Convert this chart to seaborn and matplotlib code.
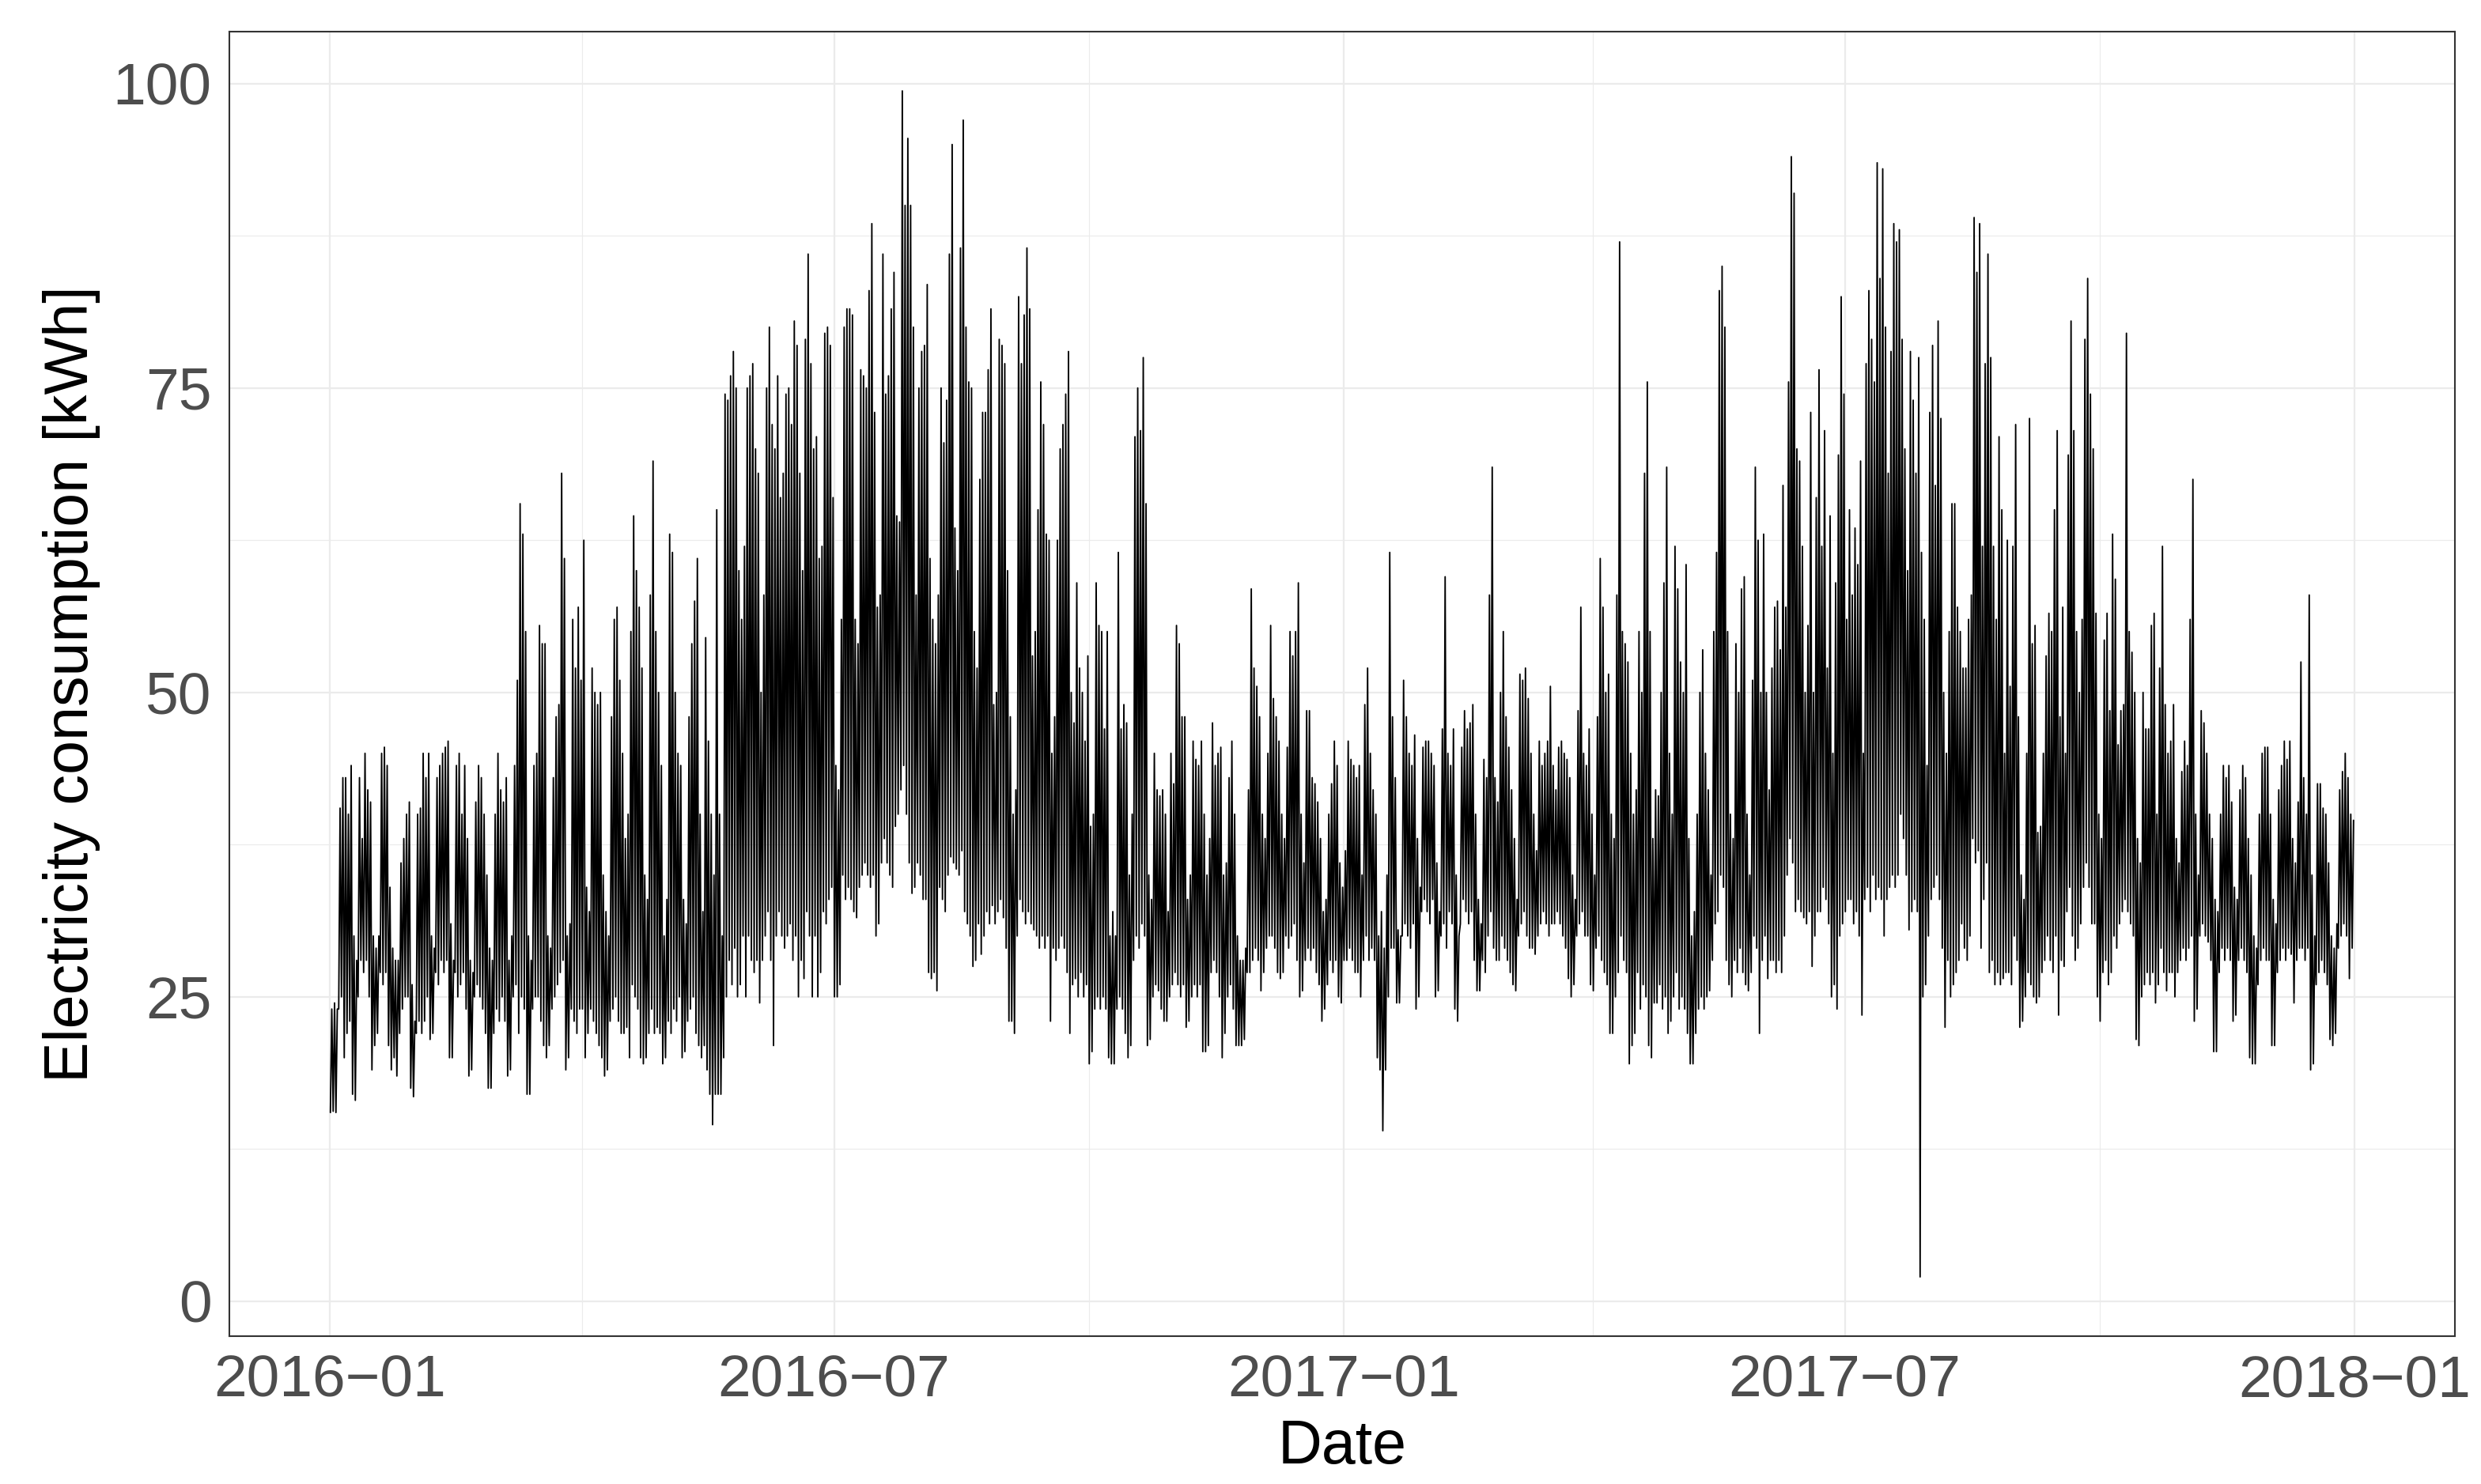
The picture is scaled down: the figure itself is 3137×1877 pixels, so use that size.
import numpy as np
import pandas as pd
import seaborn as sns
import matplotlib.pyplot as plt
import matplotlib.dates as mdates

# daily peak and trough of consumption [kWh] (one row per week)
start_day = '2016-01-01'
daily_high = [
    24, 24.5, 24, 40.5, 43, 43, 40,
    44, 30, 28, 43, 38, 45, 42,
    41, 30, 29, 30, 45, 45.5, 44,
    34, 29, 28, 28, 36, 38, 40,
    41, 26, 23, 40, 40.5, 45, 43,
    45, 30, 29, 43, 44, 45, 45.5,
    46, 31, 28, 44, 45, 40, 44,
    38, 28, 27, 41, 44, 43, 40,
    35, 29, 28, 40, 45, 42, 41,
    43, 28, 30, 44, 51, 65.5, 63,
    55, 30, 28, 44, 45, 55.5, 54,
    54, 30, 29, 43, 48, 49, 68,
    61, 30, 31, 56, 52, 57, 51,
    62.5, 34, 32, 52, 50, 49, 50,
    35, 32, 30, 48, 56, 57, 51,
    45, 38, 40, 55, 64.5, 60, 57,
    52, 35, 33, 58, 69, 55, 50,
    44, 30, 33, 63, 61.5, 50, 45,
    44, 33, 31, 48, 54, 57.5, 61,
    40, 32, 54.5, 46, 40, 35, 65,
    40, 30, 74.5, 74, 76, 78, 75,
    60, 56, 62, 75, 76, 77, 70,
    68, 50, 58, 75, 80, 72, 70,
    76, 66, 68, 74.5, 75, 72, 80.5,
    78.5, 68, 60, 79, 86, 77, 70,
    71, 61, 62, 79.5, 80, 78.5, 66,
    44, 42, 56, 80, 81.5, 81.5, 81,
    56, 54, 76.5, 76, 75, 83, 88.5,
    73, 57, 58, 86, 74.5, 76, 81.5,
    84.5, 64.5, 64, 99.4, 90, 95.5, 90,
    80, 58, 75, 78, 78.5, 83.5, 61,
    56, 54, 58, 75, 70.5, 74, 86,
    95, 63.5, 60, 86.5, 97, 80, 75.5,
    75, 55, 52, 67.5, 73, 73, 76.5,
    81.5, 49, 50, 79, 78.5, 77, 60,
    48, 40, 42, 82.5, 77, 81, 86.5,
    81.5, 53, 55, 65, 75.5, 72, 63,
    62.5, 45, 48, 62.5, 70, 72, 74.5,
    78, 50, 47.5, 59, 52, 50, 46,
    53, 39, 40, 59, 55.5, 55, 47,
    55, 30, 32, 30, 61.5, 47, 49,
    47.5, 35, 40, 71, 75, 71.5, 77.5,
    65.5, 35, 33, 45, 42, 41.5, 42,
    40, 32, 45, 42.5, 55.5, 54, 48,
    48, 33, 35, 46, 44.5, 44, 46,
    40, 35, 38, 47.5, 44, 45, 45.5,
    35, 36, 43, 46, 40, 30, 28,
    28, 29, 42, 58.5, 52, 50.5, 48,
    40, 38, 45, 55.5, 49.5, 48, 46,
    40, 38, 45.5, 55, 53, 55, 59,
    40, 36, 48.5, 48.5, 43, 42.5, 41,
    38, 32, 33, 40, 42.5, 46, 44,
    36, 34, 37, 46, 44.5, 44, 43,
    44, 35, 49, 52, 45, 42, 40,
    30, 32, 29, 35, 61.5, 48, 43,
    30.5, 30, 51, 48, 45, 44, 46.5,
    38, 34, 45.5, 46, 46, 45, 44,
    36, 32, 47, 59.5, 45, 44, 47,
    35, 30, 45.5, 48.5, 47, 47.5, 49,
    40, 33, 31, 44.5, 43, 58, 68.5,
    43, 41, 50, 55, 48, 45.5, 42,
    38, 33, 51.5, 51, 52, 49.5, 45,
    40, 37, 46, 44, 45, 46, 50.5,
    44, 42, 45.5, 46, 45, 44.5, 43,
    35, 33, 48.5, 57, 45, 44, 47,
    40, 35, 48, 61, 57, 50, 51.5,
    40, 38, 58, 87, 55, 54, 52.5,
    45, 40, 42, 55, 50, 68, 75.5,
    55, 38, 42, 41.5, 50, 59, 68.5,
    45, 40, 62, 58.5, 52.5, 50, 60.5,
    38, 30, 32, 40, 50, 53.5, 45,
    42, 35, 55, 61.5, 83, 85, 80,
    55, 40, 38, 54, 50, 58.5, 59.5,
    40, 35, 51, 68.5, 62.5, 50, 63,
    50, 42, 52, 57, 57.5, 53.5, 67,
    57, 75.5, 94, 91, 70, 69, 62,
    50, 55.5, 73, 50, 66, 76.5, 62,
    71.5, 52, 64.5, 45, 59, 69.5, 82.5,
    74.5, 56, 65, 58, 63.5, 60.5, 69,
    45, 77, 83, 79, 75.5, 93.5, 84,
    93, 80, 68, 78, 88.5, 87, 88,
    79, 70, 60, 78, 74, 68, 77.5,
    61.5, 56, 44, 73, 78.5, 67, 80.5,
    72.5, 50, 45, 55, 65.5, 65.5, 57,
    55, 52, 52, 56, 58, 89, 84.5,
    88.5, 62, 77, 86, 77.5, 62, 56,
    71, 65, 45, 62.5, 50.5, 62, 72,
    48, 35, 33, 45, 72.5, 54, 55.5,
    38.5, 39, 45, 53, 56.5, 55, 65,
    71.5, 48, 57, 45, 69.5, 80.5, 71.5,
    55, 50, 56, 79, 84, 74.5, 70,
    56.5, 40, 38, 54.3, 56.5, 48.5, 63,
    59.3, 45.7, 48.5, 49, 79.5, 55, 53.3,
    50, 38, 36, 50, 47, 47, 55.5,
    56.5, 40, 52, 62, 49, 45, 46,
    49, 38, 36, 43.5, 46, 44, 56,
    67.5, 40, 35, 48.5, 47.5, 45, 40,
    38, 33, 32, 40, 44, 43, 44,
    41, 34, 33, 42, 44, 43, 38,
    35, 30, 29, 40, 45, 45.5, 45.5,
    40, 33, 31, 42, 44, 46, 44.5,
    46, 38, 36, 41, 52.5, 43, 40,
    58, 35, 30, 42.5, 42.5, 40.5, 40,
    36, 30, 29, 31, 42, 43.5, 45,
    43, 40, 39.5,
]
daily_low = [
    15.5, 15.6, 15.5, 24, 25, 20, 22,
    23, 17, 16.5, 25, 28, 27, 28,
    25, 19, 21, 22, 27, 26, 27,
    21, 19, 20, 18.5, 22, 24, 25,
    25, 17.5, 16.8, 22, 23, 22, 23,
    25, 21.5, 22, 27, 26, 28, 27,
    28, 20, 20, 27, 25, 26, 27,
    24, 18.5, 19, 25, 26, 25, 24,
    22, 17.5, 17.5, 22, 24, 23, 25,
    23, 18.5, 19, 25, 26, 22, 25,
    24, 17, 17, 24, 25, 25, 23,
    21, 20, 21, 24, 25, 26, 27,
    28, 19, 20, 24, 23, 22, 24,
    24, 20, 22, 24, 23, 22, 21,
    20, 18.5, 19, 23, 24, 25, 23,
    22, 22, 22.5, 20, 26, 25, 24,
    20, 19.5, 20, 22, 24, 22, 22.5,
    22, 19.5, 20, 23, 22, 24, 23,
    25, 20, 20.5, 23, 24, 25, 22,
    21, 20, 21, 19, 17, 14.5, 17,
    17, 17, 20, 25, 28, 26, 29,
    25, 26, 30, 25, 30, 28, 27,
    28, 24.5, 28, 30, 32, 28, 21,
    30, 32, 30, 29, 30, 31, 28,
    30, 25, 28, 26.5, 32, 30, 25,
    30, 25, 27, 32, 31, 33, 34,
    25, 25, 26, 35, 33, 34, 33,
    32, 31.5, 34, 35, 36, 35, 34,
    35, 30, 31, 36, 38, 36, 35,
    34, 39, 40, 42, 44, 40, 36,
    33.5, 34, 36, 35, 33, 33, 27,
    26.5, 27, 25.5, 34, 33, 32, 35,
    36.5, 36, 35.5, 35, 37, 32, 31,
    30, 27.5, 28, 31, 28.5, 30, 32,
    31, 32.5, 31, 32, 33, 31.5, 29,
    23, 23, 22, 30, 33, 32, 31,
    32, 31, 30.5, 30, 29, 30, 29,
    30, 23, 29, 28, 29, 30, 29,
    27, 22, 26, 26.5, 25, 27, 25,
    26, 19.5, 20.5, 24, 25, 24, 25,
    24, 20, 19.5, 19.5, 24, 25, 24,
    22, 20, 21, 28, 30, 29, 31,
    30, 21, 21.5, 25, 26, 25.5, 24,
    23, 23, 25, 26, 27, 26, 25,
    26, 22.5, 23, 25, 26, 25, 26,
    20.5, 20.5, 21, 27, 28, 27, 25,
    20, 22, 25, 26, 24, 21, 21,
    21, 21.5, 27, 27, 28, 29, 28,
    25.5, 27, 29, 30, 30, 29, 27,
    26.5, 27, 30, 29, 30, 31, 28,
    25, 25.5, 28, 29, 28, 29, 27,
    26, 23, 24, 26, 28, 27, 28,
    25, 24.5, 28, 28, 29, 28, 27,
    27, 25, 28, 30, 28, 29, 28,
    20, 19, 14, 19, 25, 29, 29,
    24.5, 24.5, 30, 31, 30, 29, 31,
    24, 25, 32, 33, 32, 31, 33,
    25, 25.5, 30, 31, 29, 32, 31,
    24, 23, 31, 33, 32, 31, 32,
    28, 25.5, 25.5, 28, 27, 30, 32,
    29, 28, 28, 30, 29, 28, 27,
    26, 25.5, 30, 31, 32, 30, 29,
    29, 28.5, 30, 31, 32, 31, 30,
    31, 31, 32, 31, 30, 29, 26.5,
    25, 26, 30, 31, 32, 30, 30,
    26, 25.5, 29, 30, 28, 27, 26,
    22, 22, 25, 27, 30, 28, 27,
    19.5, 21, 22, 27, 24, 26, 25,
    21, 20, 24.5, 24.5, 26, 24, 25,
    22, 23, 25, 27, 24, 25, 24,
    22, 19.5, 19.5, 22, 24, 25, 24,
    25, 25.5, 28, 31, 32, 35, 34,
    28, 26, 25, 28, 27, 29, 27,
    26, 25.5, 27, 30, 29, 22, 28,
    30, 26.5, 28, 28, 27, 28, 27,
    30, 35, 38, 36, 32, 33, 32,
    31.5, 31, 32, 27.5, 30, 32, 32,
    34, 33, 31, 25, 26, 24, 30,
    31, 32, 33, 33, 31, 32, 30,
    23.5, 33, 34, 32, 35, 33, 34,
    33, 30, 33, 34, 35, 34, 35,
    40, 38, 35, 30.5, 32, 33, 32,
    2.0, 25, 26, 30, 33, 34, 35,
    33, 29, 22.5, 28, 25, 26, 27,
    28, 31, 29, 28, 30, 38, 36,
    37, 29, 33, 36, 27, 28, 26,
    27, 26, 26.5, 27, 27, 26, 30,
    28, 22.5, 23, 25, 27, 26, 25,
    24.5, 25, 27, 28, 30, 28, 27,
    30, 23.5, 28, 27.5, 32, 34, 30,
    28, 29, 31, 34, 36, 34, 31,
    31, 25, 23, 27, 28, 26, 27,
    30, 29, 31, 32, 33, 32, 31,
    30, 21.5, 21, 25, 26, 27, 26,
    27, 24.5, 26, 29, 27, 25.5, 27,
    27, 25, 27, 28, 29, 28, 29,
    30, 23, 24, 30, 31, 30, 29.5,
    28, 20.5, 20.5, 27, 29, 28, 29,
    28, 23, 23.5, 28, 29, 28, 27,
    20, 19.5, 19.5, 26, 28, 29, 28,
    28, 21, 21, 27, 28, 29, 28,
    29, 28.5, 24.5, 28, 29, 29, 28,
    29, 19, 19.5, 26, 27, 28, 27,
    26, 21.5, 21, 22, 29, 30, 31,
    30, 26.5, 29,
]
x_breaks = ['2016-01-01', '2016-07-01', '2017-01-01', '2017-07-01', '2018-01-01']
x_minor = ['2016-04-01', '2016-10-01', '2017-04-01', '2017-10-01']
y_breaks = [0, 25, 50, 75, 100]
y_minor = [12.5, 37.5, 62.5, 87.5]

days = pd.date_range(start_day, periods=len(daily_high), freq='D')
times = np.column_stack([days + pd.Timedelta(hours=4), days + pd.Timedelta(hours=16)]).ravel()
values = np.column_stack([daily_low, daily_high]).ravel()
df = pd.DataFrame({'Date': pd.to_datetime(times), 'kWh': values})

sns.set_style('white')
plt.rcParams['font.family'] = ['Liberation Sans', 'DejaVu Sans']

fig = plt.figure(figsize=(3137 / 300, 1877 / 300), dpi=300)
ax = fig.add_axes([0.0924, 0.0996, 0.8970, 0.8791])

sns.lineplot(data=df, x='Date', y='kWh', ax=ax, color='black', linewidth=0.45,
             estimator=None, sort=False)

# ggplot-like 5% expansion
t0, t1 = df['Date'].min(), df['Date'].max()
pad = (t1 - t0) * 0.05
ax.set_xlim(t0 - pad, t1 + pad)
lo, hi = df['kWh'].min(), df['kWh'].max()
ax.set_ylim(lo - 0.05 * (hi - lo), hi + 0.05 * (hi - lo))

ax.set_xticks(pd.to_datetime(x_breaks))
ax.set_xticks(pd.to_datetime(x_minor), minor=True)
ax.xaxis.set_major_formatter(mdates.DateFormatter('%Y\u2212%m'))
ax.set_yticks(y_breaks)
ax.set_yticks(y_minor, minor=True)

ax.grid(True, which='major', color='#EBEBEB', linewidth=0.55)
ax.grid(True, which='minor', color='#EBEBEB', linewidth=0.28)
ax.set_axisbelow(True)

for s in ax.spines.values():
    s.set_color('#333333')
    s.set_linewidth(0.5)

ax.tick_params(which='major', length=1.4, width=0.5, color='#333333',
               labelsize=18, labelcolor='#4D4D4D', pad=4)
ax.tick_params(which='minor', length=0)

ax.set_xlabel('Date', fontsize=18.5, color='black', labelpad=3)
ax.set_ylabel('Electricity consumption [kWh]', fontsize=18.5, color='black')
ax.yaxis.set_label_coords(-0.058, 0.5)

fig.savefig('out.png', dpi=300, facecolor='white')
